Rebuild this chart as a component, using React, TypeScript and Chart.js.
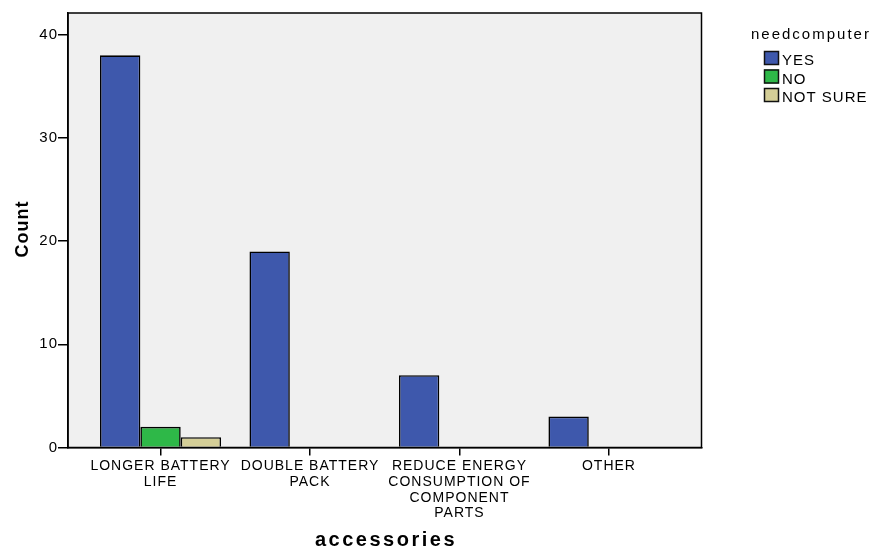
import React, { useEffect, useRef } from 'react';
import { Chart, registerables } from 'chart.js';

Chart.register(...registerables);

const categories: string[][] = [
  ['LONGER BATTERY', 'LIFE'],
  ['DOUBLE BATTERY', 'PACK'],
  ['REDUCE ENERGY', 'CONSUMPTION OF', 'COMPONENT', 'PARTS'],
  ['OTHER'],
];
const seriesNames = ['YES', 'NO', 'NOT SURE'];
const yesCounts = [38, 19, 7, 3];
const noCounts = [2, 0, 0, 0];
const notSureCounts = [1, 0, 0, 0];
const yTicks = [0, 10, 20, 30, 40];
const seriesColors = ['#3E58AC', '#2EB848', '#D4CE97'];
const legendTitle = 'needcomputer';
const xTitle = 'accessories';
const yTitle = 'Count';

const FONT = '"Liberation Sans", Arial, sans-serif';

const framePlugin = {
  id: 'spssFrame',
  beforeLayout(chart: any) {
    chart.ctx.letterSpacing = '1px';
  },
  beforeDraw(chart: any) {
    const { ctx, chartArea: a } = chart;
    ctx.letterSpacing = '1px';
    ctx.save();
    ctx.fillStyle = '#F0F0F0';
    ctx.fillRect(a.left, a.top, a.right - a.left, a.bottom - a.top);
    ctx.restore();
  },
  afterDraw(chart: any) {
    const { ctx, chartArea: a } = chart;
    ctx.save();
    ctx.strokeStyle = '#000';
    ctx.lineWidth = 1.5;
    ctx.strokeRect(a.left, a.top, a.right - a.left, a.bottom - a.top);

    // legend
    ctx.fillStyle = '#000';
    ctx.textAlign = 'left';
    ctx.textBaseline = 'alphabetic';
    ctx.font = `15px ${FONT}`;
    ctx.letterSpacing = '2px';
    ctx.fillText(legendTitle, 751, 38.5);
    ctx.letterSpacing = '1px';
    seriesNames.forEach((name, i) => {
      const y = 51 + i * 18.5;
      ctx.fillStyle = seriesColors[i];
      ctx.fillRect(764, y, 15, 14);
      ctx.strokeStyle = '#111';
      ctx.lineWidth = 1.5;
      ctx.strokeRect(764.5, y + 0.5, 14, 13);
      ctx.fillStyle = '#000';
      ctx.fillText(name, 782, y + 14);
    });

    // x title
    ctx.font = `bold 20px ${FONT}`;
    ctx.letterSpacing = '2.5px';
    ctx.textAlign = 'center';
    ctx.fillText(xTitle, 386, 546);

    // y title
    ctx.translate(28, 229);
    ctx.rotate(-Math.PI / 2);
    ctx.font = `bold 18px ${FONT}`;
    ctx.letterSpacing = '1px';
    ctx.textAlign = 'center';
    ctx.fillText(yTitle, 0, 0);
    ctx.restore();
  },
};

const toData = (vals: number[]) => vals.map((v, i) => ({ x: i, y: v === 0 ? null : v }));

export default function App() {
  const ref = useRef<HTMLCanvasElement>(null);
  useEffect(() => {
    if (!ref.current) return;
    Chart.defaults.font.family = FONT;
    const seriesValues = [yesCounts, noCounts, notSureCounts];
    const chart = new Chart(ref.current, {
      type: 'bar',
      data: {
        datasets: seriesNames.map((name, i) => ({
          label: name,
          data: toData(seriesValues[i]) as any,
          backgroundColor: seriesColors[i],
          borderColor: '#000',
          borderWidth: 1.6,
          categoryPercentage: 0.81,
          barPercentage: 1,
        })),
      },
      options: {
        responsive: false,
        animation: false,
        layout: { padding: { left: 0, top: 13, right: 179.5, bottom: 0 } },
        plugins: { legend: { display: false }, tooltip: { enabled: false } },
        scales: {
          x: {
            type: 'linear',
            min: -0.619,
            max: 3.619,
            offset: false,
            grid: {
              offset: false,
              drawOnChartArea: false,
              drawTicks: true,
              tickLength: 8,
              color: '#000',
              lineWidth: 1.5,
            },
            border: { display: true, color: '#000', width: 1.5 },
            afterBuildTicks: (s: any) => {
              s.ticks = categories.map((_, i) => ({ value: i }));
            },
            afterFit: (s: any) => {
              s.height = 102.5;
            },
            ticks: {
              callback: (v: any) => categories[Math.round(v)],
              font: { size: 14, lineHeight: 1.12 },
              color: '#000',
              padding: 3,
              maxRotation: 0,
              autoSkip: false,
            },
          } as any,
          y: {
            min: 0,
            max: 42.1,
            grid: {
              drawOnChartArea: false,
              drawTicks: true,
              tickLength: 10,
              color: '#000',
              lineWidth: 1.5,
            },
            border: { display: true, color: '#000', width: 1.5 },
            afterBuildTicks: (s: any) => {
              s.ticks = yTicks.map((v) => ({ value: v }));
            },
            afterFit: (s: any) => {
              s.width = 68;
            },
            ticks: { font: { size: 15 }, color: '#000', padding: 0 },
          } as any,
        },
      },
      plugins: [framePlugin],
    });
    return () => chart.destroy();
  }, []);
  return (
    <div style={{ position: 'fixed', left: 0, top: 0, width: 881, height: 550, background: '#fff' }}>
      <canvas ref={ref} width={881} height={550} />
    </div>
  );
}
